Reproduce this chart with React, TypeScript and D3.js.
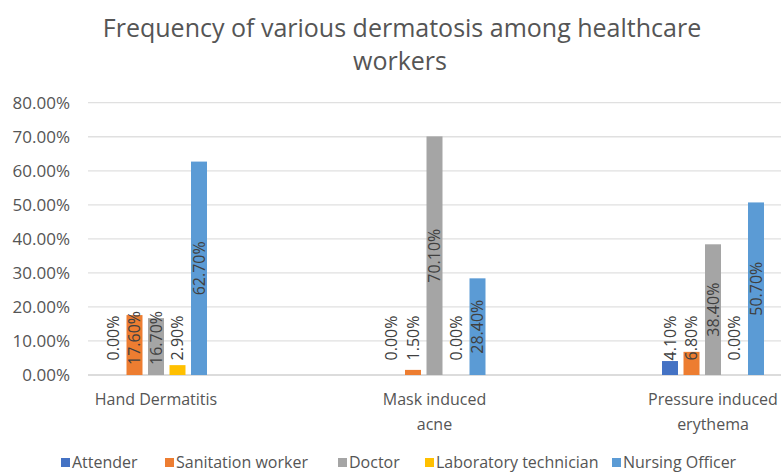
import React from "react";
import * as d3 from "d3";

const categories = ["Hand Dermatitis", "Mask induced acne", "Pressure induced erythema"];
const categoryLines = [["Hand Dermatitis"], ["Mask induced", "acne"], ["Pressure induced", "erythema"]];
const seriesNames = ["Attender", "Sanitation worker", "Doctor", "Laboratory technician", "Nursing Officer"];
const attender = [0.0, 0.0, 4.1];
const sanitationWorker = [17.6, 1.5, 6.8];
const doctor = [16.7, 70.1, 38.4];
const labTechnician = [2.9, 0.0, 0.0];
const nursingOfficer = [62.7, 28.4, 50.7];
const seriesValues = [attender, sanitationWorker, doctor, labTechnician, nursingOfficer];
const colors = ["#4472C4", "#ED7D31", "#A5A5A5", "#FFC000", "#5B9BD5"];
const yTicks = [0, 10, 20, 30, 40, 50, 60, 70, 80];

const W = 781;
const H = 472;
const FONT = "'Open Sans', sans-serif";
const TXT = "#555555";

export default function App() {
  const plotLeft = 88;
  const y = d3.scaleLinear().domain([0, 80]).range([375, 102.7]);
  const x0 = d3.scaleBand().domain(categories).range([16.75, 852.25]).padding(0);
  const groupW = 107.5;
  const x1 = d3
    .scaleBand()
    .domain(seriesNames)
    .range([-groupW / 2, groupW / 2])
    .paddingInner(0.256)
    .paddingOuter(0.128);
  const bw = x1.bandwidth();
  const legendX = [61, 165, 338, 425, 612];

  return (
    <div style={{ position: "absolute", left: 0, top: 0 }}>
      <svg width={W} height={H} style={{ display: "block", background: "#fff" }}>
        <text x={402} y={37} textAnchor="middle" fontFamily={FONT} fontSize={25} fill={TXT}>
          Frequency of various dermatosis among healthcare
        </text>
        <text x={400} y={70} textAnchor="middle" fontFamily={FONT} fontSize={25} fill={TXT}>
          workers
        </text>
        {yTicks.map((t) => (
          <g key={t}>
            <line x1={plotLeft} x2={W} y1={y(t)} y2={y(t)} stroke={t === 0 ? "#d0d0d0" : "#e0e0e0"} strokeWidth={1.3} />
            <text
              x={70}
              y={y(t)}
              dy="0.35em"
              textAnchor="end"
              fontFamily={FONT}
              fontSize={17}
              fill={TXT}
            >
              {t.toFixed(2) + "%"}
            </text>
          </g>
        ))}
        {categories.map((c, ci) => {
          const cx = (x0(c) as number) + x0.bandwidth() / 2;
          return (
            <g key={c}>
              {seriesNames.map((s, si) => {
                const v = seriesValues[si][ci];
                const bx = cx + (x1(s) as number);
                const top = y(v);
                const mid = (top + y(0)) / 2;
                const ly = Math.min(mid, y(0) - 37);
                const lx = bx + bw / 2;
                return (
                  <g key={s}>
                    <rect x={bx} y={top} width={bw} height={y(0) - top} fill={colors[si]} />
                    <text
                      transform={`translate(${lx},${ly}) rotate(-90)`}
                      textAnchor="middle"
                      dy="0.35em"
                      fontFamily={FONT}
                      fontSize={16}
                      fill="#404040"
                    >
                      {v.toFixed(2) + "%"}
                    </text>
                  </g>
                );
              })}
              {categoryLines[ci].map((ln, li) => (
                <text
                  key={li}
                  x={cx}
                  y={405 + li * 25}
                  textAnchor="middle"
                  fontFamily={FONT}
                  fontSize={16}
                  fill={TXT}
                >
                  {ln}
                </text>
              ))}
            </g>
          );
        })}
        {seriesNames.map((s, si) => {
          const lx = legendX[si];
          return (
            <g key={s}>
              <rect x={lx} y={458} width={9} height={9} fill={colors[si]} />
              <text x={lx + 11} y={468} fontFamily={FONT} fontSize={16} fill={TXT}>
                {s}
              </text>
            </g>
          );
        })}
      </svg>
    </div>
  );
}
